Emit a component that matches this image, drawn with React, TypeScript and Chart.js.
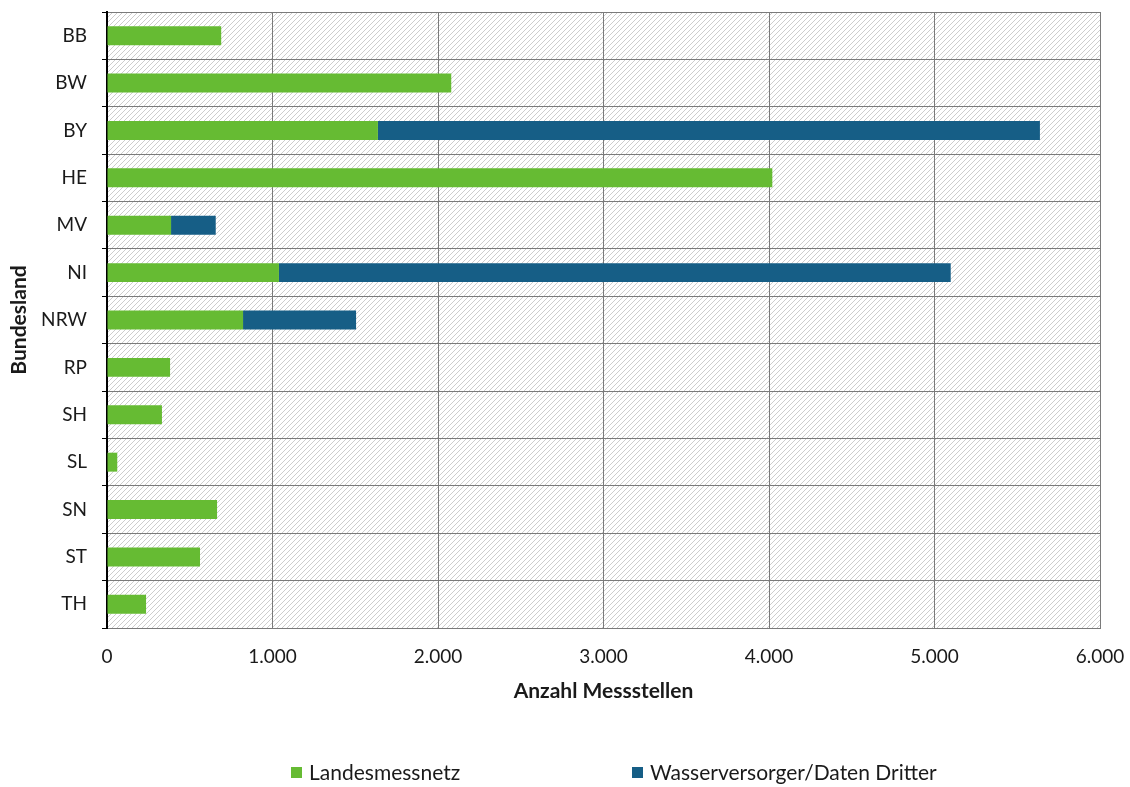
import React, { useEffect, useRef } from "react";
import { Chart, registerables } from "chart.js";

Chart.register(...registerables);

// Federal states (Bundesländer)
const states = ["BB", "BW", "BY", "HE", "MV", "NI", "NRW", "RP", "SH", "SL", "SN", "ST", "TH"];
// Monitoring sites of the state network
const landesmessnetz = [690, 2080, 1637, 4020, 387, 1039, 822, 381, 332, 62, 665, 562, 236];
// Monitoring sites from water suppliers / third-party data
const wasserversorger = [0, 0, 4000, 0, 270, 4059, 683, 0, 0, 0, 0, 0, 0];
// X axis tick labels (German thousands separator)
const xTickLabels = ["0", "1.000", "2.000", "3.000", "4.000", "5.000", "6.000"];

const seriesNames = ["Landesmessnetz", "Wasserversorger/Daten Dritter"];
const seriesColors = ["#66bb33", "#165e86"];

const FONT_FAMILY = "Lato, 'Open Sans', sans-serif";
const TEXT_COLOR = "#1a1a1a";
const GRID_COLOR = "#7a7a7a";

// Diagonal hatch behind the plot area
const hatchPlugin = {
  id: "hatchBackground",
  beforeDraw(chart: any) {
    const { ctx, chartArea: a } = chart;
    ctx.save();
    ctx.fillStyle = "#ffffff";
    ctx.fillRect(0, 0, chart.width, chart.height);
    const s = 5;
    const tile = document.createElement("canvas");
    tile.width = s;
    tile.height = s;
    const t = tile.getContext("2d")!;
    t.fillStyle = "#ffffff";
    t.fillRect(0, 0, s, s);
    t.strokeStyle = "#cdcdcd";
    t.lineWidth = 1;
    t.beginPath();
    t.moveTo(0, s);
    t.lineTo(s, 0);
    t.moveTo(-1, 1);
    t.lineTo(1, -1);
    t.moveTo(s - 1, s + 1);
    t.lineTo(s + 1, s - 1);
    t.stroke();
    const pattern = ctx.createPattern(tile, "repeat");
    if (pattern) {
      ctx.fillStyle = pattern;
      ctx.fillRect(a.left, a.top, a.right - a.left, a.bottom - a.top);
    }
    ctx.restore();
  },
};

// Legend row under the axis title
const legendPlugin = {
  id: "bottomLegend",
  afterDraw(chart: any) {
    const { ctx } = chart;
    const xs = [291, 632];
    const y = 773;
    ctx.save();
    ctx.font = `21px ${FONT_FAMILY}`;
    ctx.textBaseline = "middle";
    ctx.textAlign = "left";
    chart.data.datasets.forEach((ds: any, i: number) => {
      ctx.fillStyle = ds.backgroundColor;
      ctx.fillRect(xs[i], y - 6, 11, 11);
      ctx.fillStyle = TEXT_COLOR;
      ctx.fillText(ds.label, xs[i] + 18, y);
    });
    ctx.restore();
  },
};

export default function App() {
  const canvasRef = useRef<HTMLCanvasElement | null>(null);

  useEffect(() => {
    if (!canvasRef.current) return;
    const tickFont = { family: FONT_FAMILY, size: 19 };
    const titleFont = { family: FONT_FAMILY, size: 21, weight: "bold" as const };
    const chart = new Chart(canvasRef.current, {
      type: "bar",
      data: {
        labels: states,
        datasets: [
          {
            label: seriesNames[0],
            data: landesmessnetz,
            backgroundColor: seriesColors[0],
            borderWidth: 0,
            barPercentage: 0.4,
            categoryPercentage: 1,
          },
          {
            label: seriesNames[1],
            data: wasserversorger,
            backgroundColor: seriesColors[1],
            borderWidth: 0,
            barPercentage: 0.4,
            categoryPercentage: 1,
          },
        ],
      },
      options: {
        indexAxis: "y",
        animation: false,
        responsive: true,
        maintainAspectRatio: false,
        layout: { padding: { top: 12, right: 30, bottom: 74, left: 0 } },
        plugins: {
          legend: { display: false },
          tooltip: { enabled: false },
        },
        scales: {
          x: {
            stacked: true,
            min: 0,
            max: 6000,
            ticks: {
              stepSize: 1000,
              padding: 17,
              color: TEXT_COLOR,
              font: tickFont,
              callback: (v: any) => xTickLabels[Math.round(Number(v) / 1000)],
            },
            grid: { color: GRID_COLOR, lineWidth: 1, drawTicks: false },
            border: { color: GRID_COLOR, width: 1 },
            title: {
              display: true,
              text: "Anzahl Messstellen",
              color: TEXT_COLOR,
              font: titleFont,
              padding: { top: 0, bottom: 9 },
            },
            afterFit: (scale: any) => {
              scale.height = 85;
              scale.paddingLeft = 0;
              scale.paddingRight = 0;
            },
          },
          y: {
            stacked: true,
            ticks: { padding: 15, color: TEXT_COLOR, font: tickFont },
            grid: {
              color: GRID_COLOR,
              lineWidth: 1,
              offset: true,
              tickColor: "#000000",
              tickLength: 5,
            },
            border: { color: "#000000", width: 2 },
            title: {
              display: true,
              text: "Bundesland",
              color: TEXT_COLOR,
              font: titleFont,
              padding: { top: 7, bottom: 0 },
            },
            afterFit: (scale: any) => {
              scale.width = 107;
              scale.paddingTop = 0;
              scale.paddingBottom = 0;
            },
          },
        },
      },
      plugins: [hatchPlugin, legendPlugin],
    });
    return () => chart.destroy();
  }, []);

  return (
    <div style={{ position: "absolute", left: 0, top: 0, width: 1130, height: 787 }}>
      <canvas ref={canvasRef} />
    </div>
  );
}
